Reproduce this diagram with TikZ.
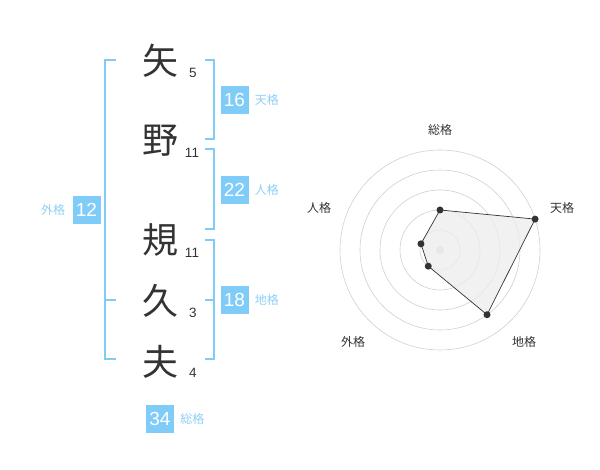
\documentclass[tikz,border=0pt]{standalone}
\usepackage{fontspec}
\setmainfont{Liberation Sans}
\newfontfamily\jp{Noto Sans CJK JP}
\usepackage{tikz}
\usetikzlibrary{positioning}
\usetikzlibrary{calc}
\definecolor{kakublue}{HTML}{80CCF8}
\definecolor{kakutext}{HTML}{8DD0F5}
\definecolor{inkgray}{HTML}{333333}
\definecolor{ringgray}{HTML}{D0D0D0}

\begin{document}
\begin{tikzpicture}[x=1pt,y=-1pt,
                    kanji/.style={font=\jp\fontsize{36}{36}\selectfont, text=inkgray, inner sep=0pt},
                    strokes/.style={font=\fontsize{13.5}{13.5}\selectfont, text=inkgray, inner sep=0pt},
                    kakubox/.style={fill=kakublue, text=white, minimum size=28pt, inner sep=0pt,
                                    font=\fontsize{19}{19}\selectfont},
                    kakuname/.style={text=kakutext, font=\jp\fontsize{12}{12}\selectfont, inner sep=0pt},
                    axisname/.style={text=inkgray, font=\jp\fontsize{12}{12}\selectfont, inner sep=0pt},
                    bracket/.style={draw=kakublue, line width=1.8pt},
                    dot/.style={circle, fill=inkgray, inner sep=0pt, minimum size=7pt}]
  \useasboundingbox (0,0) rectangle (600,470);

  % name
  \node[kanji] (k1) at (160,61) {矢};
  \node[kanji] (k2) at (160,141) {野};
  \node[kanji] (k3) at (160,240) {規};
  \node[kanji] (k4) at (160,301) {久};
  \node[kanji] (k5) at (160,362) {夫};
  \node[strokes] (s1) at (193,73) {5};
  \node[strokes] (s2) at (192,153) {11};
  \node[strokes] (s3) at (192,253) {11};
  \node[strokes] (s4) at (193,313) {3};
  \node[strokes] (s5) at (193,373) {4};

  % brackets
  \coordinate (ga) at (116,60);  \coordinate (gb) at (116,359); \coordinate (gm) at (116,300);
  \draw[bracket] (ga) -- ++(-11,0) |- (gb);
  \draw[bracket] (gm) -- ++(-11,0);
  \coordinate (ta) at (205,60);  \coordinate (tb) at (205,139);
  \draw[bracket] (ta) -- ++(9,0) |- (tb);
  \coordinate (ja) at (205,149); \coordinate (jb) at (205,229);
  \draw[bracket] (ja) -- ++(9,0) |- (jb);
  \coordinate (ca) at (205,240); \coordinate (cb) at (205,359); \coordinate (cm) at (205,300);
  \draw[bracket] (ca) -- ++(9,0) |- (cb);
  \draw[bracket] (cm) -- ++(9,0);

  % scores
  \node[kakubox] (ten) at (234.5,100) {16};
  \node[kakuname, right=6pt of ten] {天格};
  \node[kakubox] (jin) at (234.5,190) {22};
  \node[kakuname, right=6pt of jin] {人格};
  \node[kakubox] (chi) at (234.5,300) {18};
  \node[kakuname, right=6pt of chi] {地格};
  \node[kakubox] (gai) at (86.5,210) {12};
  \node[kakuname, left=7pt of gai] {外格};
  \node[kakubox] (sou) at (160,419) {34};
  \node[kakuname, right=6pt of sou] {総格};

  % radar
  \coordinate (c) at (440,250);
  \foreach \r in {20,40,...,100}
    \draw[ringgray, line width=0.6pt] (c) circle[radius=\r];
  \fill[ringgray] (c) circle[radius=4];
  \coordinate (p1) at ($(c)+(-90:40)$);
  \coordinate (p2) at ($(c)+(-18:100)$);
  \coordinate (p3) at ($(c)+(54:80)$);
  \coordinate (p4) at ($(c)+(126:20)$);
  \coordinate (p5) at ($(c)+(198:20)$);
  \filldraw[fill=black!7, fill opacity=0.8, draw=inkgray, line width=0.7pt]
    (p1) -- (p2) -- (p3) -- (p4) -- (p5) -- cycle;
  \foreach \p in {p1,p2,p3,p4,p5}
    \node[dot] at (\p) {};
  \node[axisname] (a1) at (440,130) {総格};
  \node[axisname] (a2) at (562,208) {天格};
  \node[axisname] (a3) at (524,342) {地格};
  \node[axisname] (a4) at (353,342) {外格};
  \node[axisname] (a5) at (319,208) {人格};
\end{tikzpicture}
\end{document}
